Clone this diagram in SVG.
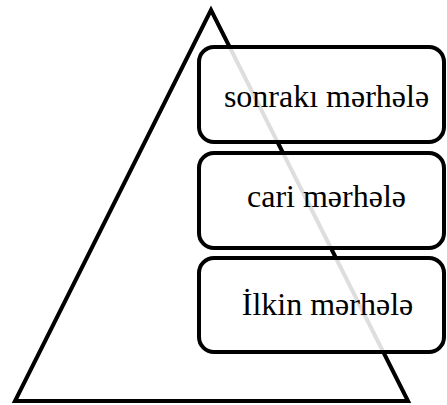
<svg xmlns="http://www.w3.org/2000/svg" width="447" height="405" viewBox="0 0 447 405">
<style>
.tri{fill:none;stroke:#000;stroke-width:4;stroke-linejoin:miter}
.box{fill:#fff;fill-opacity:0.87;stroke:#000;stroke-width:4}
.lbl{fill:#000;text-anchor:middle;font-size:32px;font-family:'Liberation Serif','Times New Roman',serif}
</style>
<rect width="447" height="405" fill="#fff"/>
<g id="pyramid">
<polygon class="tri" points="211,10 15,401 408,401"/>
</g>
<g id="node-sonraki">
<rect class="box" x="199" y="47" width="245" height="95" rx="15"/>
<text class="lbl" x="326.5" y="107">sonrakı mərhələ</text>
</g>
<g id="node-cari">
<rect class="box" x="199" y="153" width="245" height="95" rx="15"/>
<text class="lbl" x="326.5" y="207">cari mərhələ</text>
</g>
<g id="node-ilkin">
<rect class="box" x="199" y="258" width="245" height="94" rx="15"/>
<text class="lbl" x="327.5" y="315">İlkin mərhələ</text>
</g>
<g id="connectors"></g>
</svg>
